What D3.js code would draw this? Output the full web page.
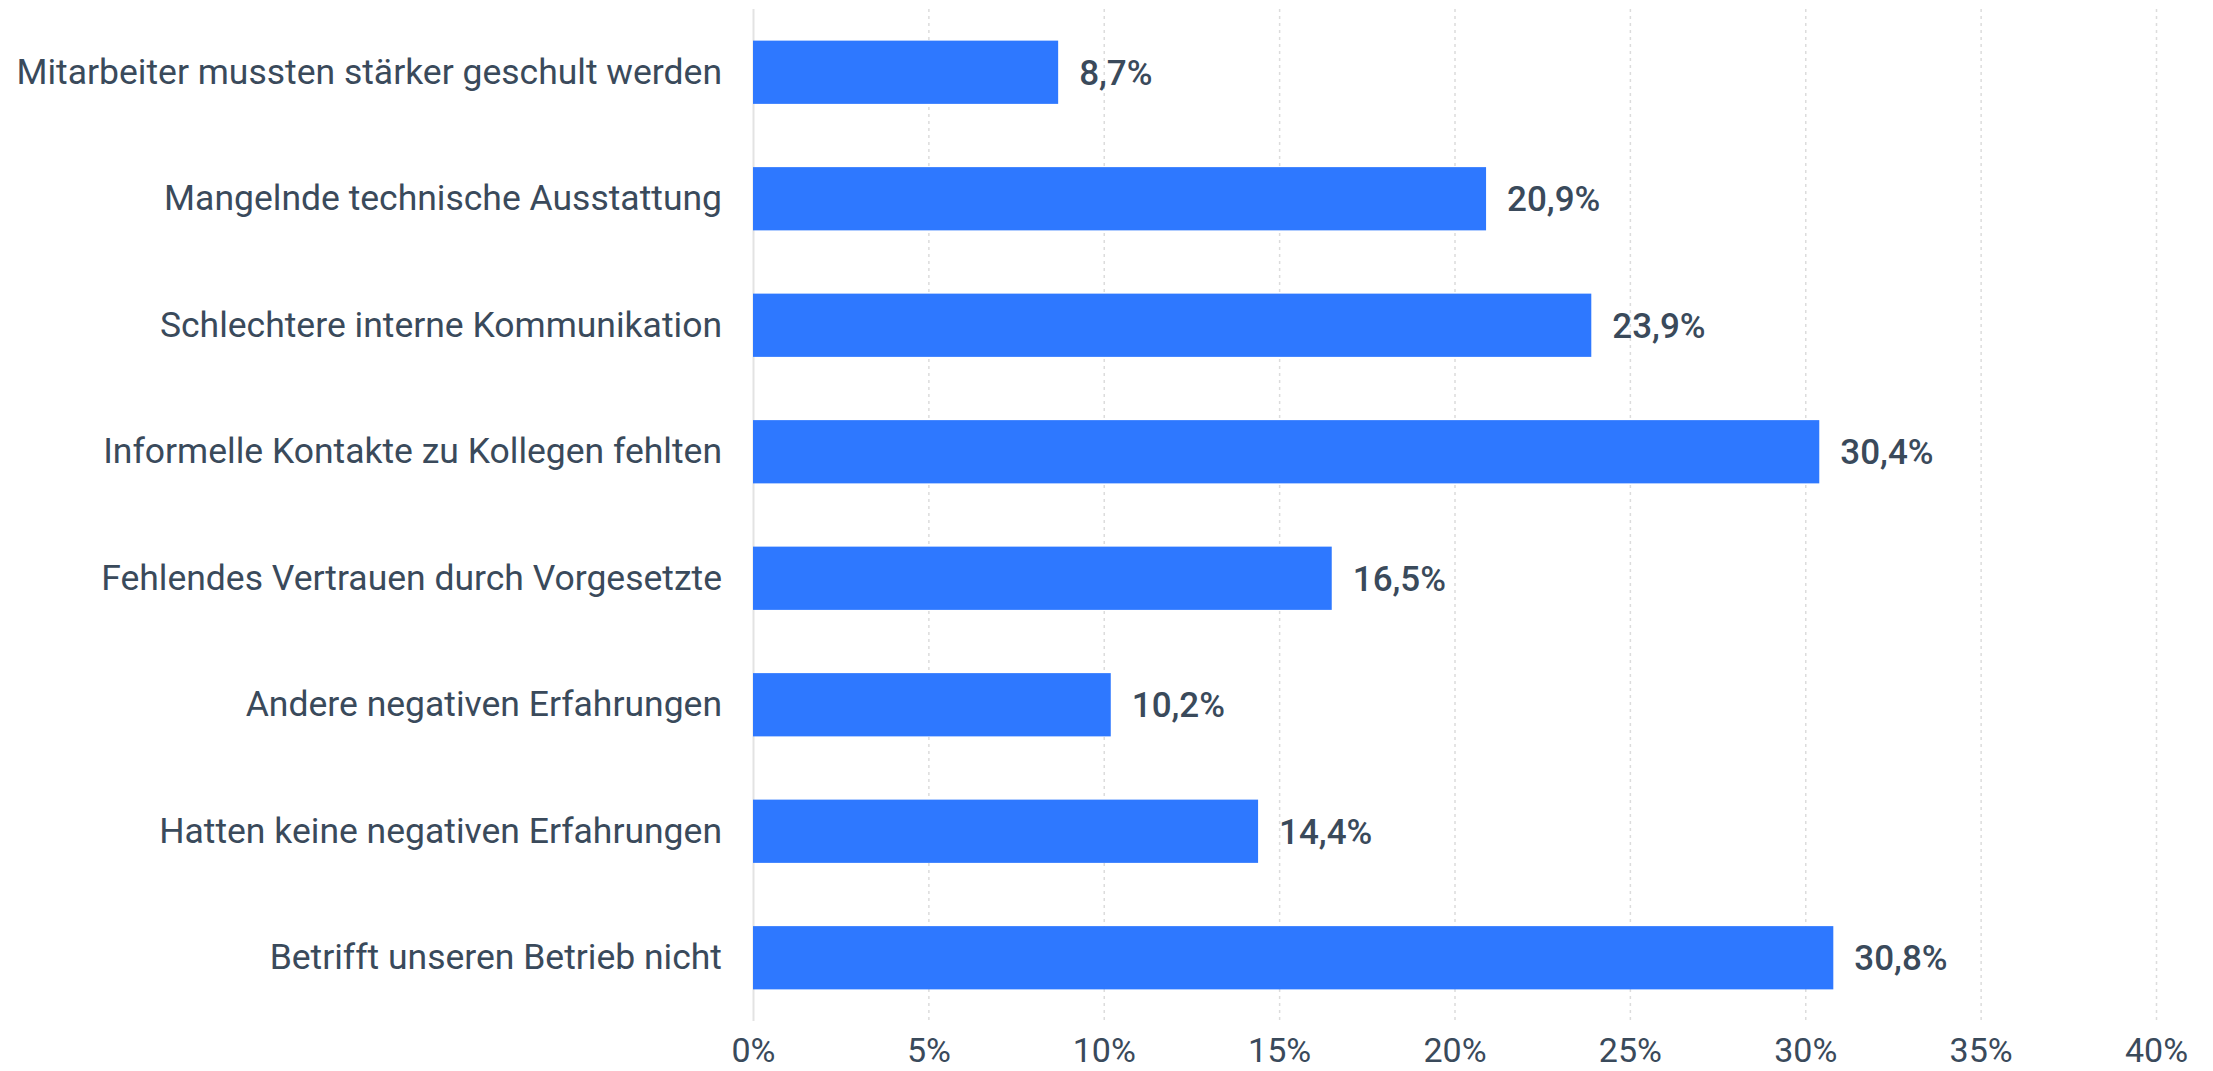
<!DOCTYPE html>
<html>
<head>
<meta charset="utf-8">
<script src="https://cdn.jsdelivr.net/npm/d3@7.9.0/dist/d3.min.js"></script>
<style>
  html, body { margin: 0; padding: 0; background: #fff; }
  svg { display: block; font-family: Roboto, "Noto Sans", sans-serif; }
</style>
</head>
<body>
<svg id="chart" width="2213" height="1071"></svg>
<script>
// Chart data
const categories = [
  'Mitarbeiter mussten stärker geschult werden',
  'Mangelnde technische Ausstattung',
  'Schlechtere interne Kommunikation',
  'Informelle Kontakte zu Kollegen fehlten',
  'Fehlendes Vertrauen durch Vorgesetzte',
  'Andere negativen Erfahrungen',
  'Hatten keine negativen Erfahrungen',
  'Betrifft unseren Betrieb nicht'
];
const values = [8.7, 20.9, 23.9, 30.4, 16.5, 10.2, 14.4, 30.8];
const tickValues = [0, 5, 10, 15, 20, 25, 30, 35, 40];

const textColor = '#3a4a5b';
const barColor = '#2e78ff';

const svg = d3.select('#chart');
const margin = { left: 753, right: 57, top: 9, bottom: 50 };
const width = 2213, height = 1071;

// Scales
const x = d3.scaleLinear().domain([0, 40]).range([margin.left, width - margin.right]);
const y = d3.scaleBand()
  .domain(categories)
  .range([margin.top, height - margin.bottom])
  .paddingInner(0.5)
  .paddingOuter(0.25);

// Gridlines (dotted), zero line solid
svg.append('g')
  .selectAll('line')
  .data(tickValues)
  .join('line')
  .attr('x1', d => x(d) + 0.5)
  .attr('x2', d => x(d) + 0.5)
  .attr('y1', margin.top)
  .attr('y2', height - margin.bottom)
  .attr('stroke', d => d === 0 ? '#e3e3e3' : '#dcdcdc')
  .attr('stroke-width', d => d === 0 ? 2 : 1.5)
  .attr('stroke-dasharray', d => d === 0 ? null : '3,4');

// Bars
svg.append('g')
  .selectAll('rect')
  .data(values)
  .join('rect')
  .attr('x', x(0))
  .attr('y', (d, i) => y(categories[i]))
  .attr('width', d => x(d) - x(0))
  .attr('height', y.bandwidth())
  .attr('fill', barColor);

// Value labels
svg.append('g')
  .selectAll('text')
  .data(values)
  .join('text')
  .attr('x', d => x(d) + 21)
  .attr('y', (d, i) => y(categories[i]) + y.bandwidth() / 2)
  .attr('dy', '0.35em')
  .attr('fill', textColor)
  .attr('font-size', 35)
  .attr('font-weight', 500)
  .text(d => d.toFixed(1).replace('.', ',') + '%');

// Category axis
const yAxis = svg.append('g')
  .attr('transform', `translate(${margin.left - 31},0)`)
  .call(d3.axisLeft(y).tickSize(0).tickPadding(0));
yAxis.select('.domain').remove();
yAxis.selectAll('text')
  .attr('fill', textColor)
  .attr('font-size', 35.5)
  .attr('font-family', 'Roboto, sans-serif');

// Value axis
const xAxis = svg.append('g')
  .attr('transform', `translate(0,${height - 21})`)
  .call(d3.axisBottom(x).tickValues(tickValues).tickSize(0).tickPadding(0).tickFormat(d => d + '%'));
xAxis.select('.domain').remove();
xAxis.selectAll('text')
  .attr('fill', textColor)
  .attr('font-size', 34)
  .attr('font-family', 'Roboto, sans-serif')
  .attr('dy', '0.35em');
</script>
</body>
</html>
